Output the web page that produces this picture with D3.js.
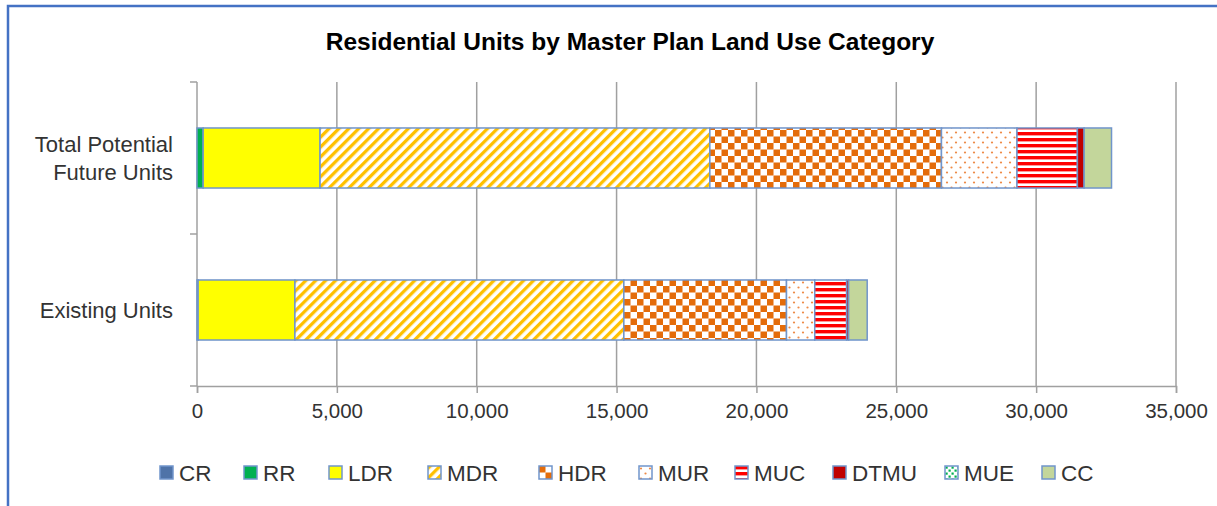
<!DOCTYPE html>
<html>
<head>
<meta charset="utf-8">
<script src="https://cdn.jsdelivr.net/npm/d3@7"></script>
<style>
  html, body { margin: 0; padding: 0; background: #fff; }
  svg { display: block; font-family: "Liberation Sans", Arial, sans-serif; }
</style>
</head>
<body>
<svg id="chart" width="1217" height="506"></svg>
<script>
// Residential units by land use category
const categories = ["Total Potential Future Units", "Existing Units"];
const categoryLines = [["Total Potential", "Future Units"], ["Existing Units"]];
const seriesNames = ["CR", "RR", "LDR", "MDR", "HDR", "MUR", "MUC", "DTMU", "MUE", "CC"];
const futureUnits   = [0, 220, 4180, 13935, 8280, 2700, 2160, 240, 0, 980];
const existingUnits = [40, 0, 3460, 11760, 5815, 1010, 1140, 70, 0, 665];
const xTickValues = [0, 5000, 10000, 15000, 20000, 25000, 30000, 35000];

const svg = d3.select("#chart");
const W = 1217, H = 506;
const plot = { left: 197, right: 1176, top: 82, bottom: 386 };

// outer frame
svg.append("rect")
  .attr("x", 8).attr("y", 6)
  .attr("width", W + 20).attr("height", H + 20)
  .attr("fill", "none").attr("stroke", "#4472C4").attr("stroke-width", 2.5);

// fill patterns
const defs = svg.append("defs");

const mdr = defs.append("pattern").attr("id", "pat-MDR")
  .attr("patternUnits", "userSpaceOnUse").attr("width", 7).attr("height", 7)
  .attr("patternTransform", "rotate(45)");
mdr.append("rect").attr("width", 7).attr("height", 7).attr("fill", "#fff");
mdr.append("rect").attr("width", 3.3).attr("height", 7).attr("fill", "#FFC000");

const hdr = defs.append("pattern").attr("id", "pat-HDR")
  .attr("patternUnits", "userSpaceOnUse").attr("width", 13).attr("height", 13);
hdr.append("rect").attr("width", 13).attr("height", 13).attr("fill", "#fff");
hdr.append("rect").attr("width", 6.5).attr("height", 6.5).attr("fill", "#E46C0A");
hdr.append("rect").attr("x", 6.5).attr("y", 6.5).attr("width", 6.5).attr("height", 6.5).attr("fill", "#E46C0A");

const mur = defs.append("pattern").attr("id", "pat-MUR")
  .attr("patternUnits", "userSpaceOnUse").attr("width", 9).attr("height", 10);
mur.append("rect").attr("width", 9).attr("height", 10).attr("fill", "#fff");
mur.append("circle").attr("cx", 2).attr("cy", 2.5).attr("r", 1.1).attr("fill", "#EE8A45");
mur.append("circle").attr("cx", 6.5).attr("cy", 7.5).attr("r", 1.1).attr("fill", "#EE8A45");

const muc = defs.append("pattern").attr("id", "pat-MUC")
  .attr("patternUnits", "userSpaceOnUse").attr("width", 6).attr("height", 6);
muc.append("rect").attr("width", 6).attr("height", 6).attr("fill", "#fff");
muc.append("rect").attr("width", 6).attr("height", 3.4).attr("fill", "#FF0000");

const mue = defs.append("pattern").attr("id", "pat-MUE")
  .attr("patternUnits", "userSpaceOnUse").attr("width", 6).attr("height", 6);
mue.append("rect").attr("width", 6).attr("height", 6).attr("fill", "#fff");
mue.append("rect").attr("x", 0.5).attr("y", 0.5).attr("width", 2.2).attr("height", 2.2).attr("fill", "#00B050");
mue.append("rect").attr("x", 3.5).attr("y", 3.5).attr("width", 2.2).attr("height", 2.2).attr("fill", "#00B050");

const fills = {
  CR: "#4F73A8", RR: "#00B050", LDR: "#FFFF00", MDR: "url(#pat-MDR)",
  HDR: "url(#pat-HDR)", MUR: "url(#pat-MUR)", MUC: "url(#pat-MUC)",
  DTMU: "#C00000", MUE: "url(#pat-MUE)", CC: "#C3D69B"
};

// scales
const x = d3.scaleLinear().domain([0, 35000]).range([plot.left, plot.right]);
const y = d3.scaleBand().domain(categories).range([plot.top, plot.bottom]).padding(0);
const barH = y.bandwidth() * 0.395;

// gridlines
svg.append("g").selectAll("line").data(xTickValues.slice(1)).join("line")
  .attr("x1", d => x(d)).attr("x2", d => x(d))
  .attr("y1", plot.top).attr("y2", plot.bottom)
  .attr("stroke", "#A0A0A0").attr("stroke-width", 1.5);

// bottom axis
const xAxis = svg.append("g").attr("transform", `translate(0,${plot.bottom})`)
  .call(d3.axisBottom(x).tickValues(xTickValues).tickFormat(d3.format(",")).tickSize(7).tickPadding(10));
xAxis.select(".domain").attr("stroke", "#A0A0A0").attr("stroke-width", 1.5);
xAxis.selectAll(".tick line").attr("stroke", "#A0A0A0").attr("stroke-width", 1.5);
xAxis.selectAll(".tick text").attr("fill", "#333").attr("font-size", 20.5)
  .attr("font-family", "Liberation Sans, Arial, sans-serif");

// left axis
const yAxisG = svg.append("g");
yAxisG.append("line").attr("x1", plot.left).attr("x2", plot.left)
  .attr("y1", plot.top).attr("y2", plot.bottom)
  .attr("stroke", "#A0A0A0").attr("stroke-width", 1.5);
const yBounds = [plot.top].concat(categories.map(c => y(c) + y.bandwidth()));
yAxisG.selectAll("line.tk").data(yBounds).join("line").attr("class", "tk")
  .attr("x1", plot.left - 7).attr("x2", plot.left)
  .attr("y1", d => d).attr("y2", d => d)
  .attr("stroke", "#A0A0A0").attr("stroke-width", 1.5);

// category labels
categories.forEach((c, i) => {
  const lines = categoryLines[i];
  const cy = y(c) + y.bandwidth() / 2;
  const lh = 28;
  const t = svg.append("text").attr("text-anchor", "end").attr("fill", "#333").attr("font-size", 22);
  lines.forEach((ln, j) => {
    t.append("tspan").attr("x", plot.left - 24)
      .attr("y", cy + (j - (lines.length - 1) / 2) * lh + 8).text(ln);
  });
});

// stacked bars
const rows = categories.map((c, i) => {
  const vals = i === 0 ? futureUnits : existingUnits;
  const o = { category: c };
  seriesNames.forEach((s, k) => o[s] = vals[k]);
  return o;
});
const stacked = d3.stack().keys(seriesNames)(rows);

const barG = svg.append("g");
stacked.forEach(layer => {
  barG.append("g").selectAll("rect").data(layer.filter(d => d[1] - d[0] > 0)).join("rect")
    .attr("x", d => x(d[0]))
    .attr("width", d => x(d[1]) - x(d[0]))
    .attr("y", d => y(d.data.category) + (y.bandwidth() - barH) / 2)
    .attr("height", barH)
    .attr("fill", fills[layer.key])
    .attr("stroke", "#7095CB").attr("stroke-width", 1.5);
});

// title
svg.append("text").attr("x", 630).attr("y", 50).attr("text-anchor", "middle")
  .attr("font-weight", "bold").attr("font-size", 24.5).attr("fill", "#000")
  .text("Residential Units by Master Plan Land Use Category");

// legend
const legendX = [160, 244, 329, 428, 539, 639, 735, 833, 945, 1042];
const legend = svg.append("g");
seriesNames.forEach((s, i) => {
  const g = legend.append("g").attr("transform", `translate(${legendX[i]},466)`);
  g.append("rect").attr("width", 13).attr("height", 13)
    .attr("fill", fills[s]).attr("stroke", "#7095CB").attr("stroke-width", 1.5);
  g.append("text").attr("x", 19).attr("y", 15).attr("font-size", 22.5).attr("fill", "#333").text(s);
});
</script>
</body>
</html>
